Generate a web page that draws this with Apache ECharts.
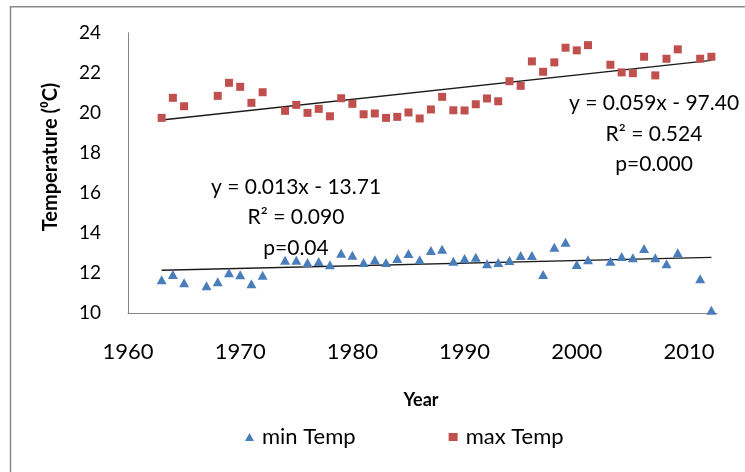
<!DOCTYPE html>
<html><head><meta charset="utf-8">
<script src="https://cdn.jsdelivr.net/npm/echarts@6/dist/echarts.min.js"></script>
<style>html,body{margin:0;padding:0;background:#fff}#c{width:745px;height:472px}</style>
</head><body><div id="c"></div>
<script>
const minYears = [1963,1964,1965,1967,1968,1969,1970,1971,1972,1974,1975,1976,1977,1978,1979,1980,1981,1982,1983,1984,1985,1986,1987,1988,1989,1990,1991,1992,1993,1994,1995,1996,1997,1998,1999,2000,2001,2003,2004,2005,2006,2007,2008,2009,2011,2012];
const minTemp = [11.67,11.93,11.52,11.37,11.58,12.02,11.92,11.47,11.9,12.65,12.65,12.53,12.58,12.42,13.0,12.9,12.53,12.67,12.53,12.73,12.98,12.67,13.13,13.2,12.6,12.73,12.8,12.47,12.53,12.63,12.88,12.88,11.93,13.3,13.55,12.43,12.67,12.6,12.83,12.77,13.23,12.77,12.47,13.02,11.73,10.15];
const maxYears = [1963,1964,1965,1968,1969,1970,1971,1972,1974,1975,1976,1977,1978,1979,1980,1981,1982,1983,1984,1985,1986,1987,1988,1989,1990,1991,1992,1993,1994,1995,1996,1997,1998,1999,2000,2001,2003,2004,2005,2006,2007,2008,2009,2011,2012];
const maxTemp = [19.75,20.75,20.33,20.85,21.5,21.3,20.5,21.03,20.1,20.4,20.0,20.2,19.83,20.73,20.45,19.93,19.97,19.75,19.8,20.02,19.72,20.17,20.8,20.13,20.12,20.43,20.72,20.58,21.58,21.35,22.57,22.05,22.52,23.25,23.12,23.38,22.4,22.02,21.98,22.8,21.87,22.7,23.17,22.7,22.8];
const xTickLabels = [1960,1970,1980,1990,2000,2010];
const yTickLabels = [10,12,14,16,18,20,22,24];
const minEqText = ['y = 0.013x - 13.71','R\u00b2 = 0.090','p=0.04'];
const maxEqText = ['y = 0.059x - 97.40','R\u00b2 = 0.524','p=0.000'];
const seriesNames = ['min Temp','max Temp'];

function fitLine(xs, ys){
  const n = xs.length;
  let sx=0, sy=0, sxx=0, sxy=0;
  for(let i=0;i<n;i++){ sx+=xs[i]; sy+=ys[i]; sxx+=xs[i]*xs[i]; sxy+=xs[i]*ys[i]; }
  const b = (n*sxy - sx*sy)/(n*sxx - sx*sx);
  const a = (sy - b*sx)/n;
  const x0 = xs[0], x1 = xs[n-1];
  return [[x0, a+b*x0],[x1, a+b*x1]];
}
const pairs = (xs, ys) => xs.map((x,i)=>[x, ys[i]]);

const FONT = 'Lato, "Open Sans", sans-serif';
const axisGray = '#868686';

const chart = echarts.init(document.getElementById('c'), null, {renderer:'canvas'});

function eqTexts(lines, cx, ys){
  return lines.map((t,i)=>({
    type:'text', x:cx, y:ys[i], z:100,
    style:{text:t, fontFamily:FONT, fontSize:21, fill:'#000', textAlign:'center', textVerticalAlign:'middle'}
  }));
}

chart.setOption({
  animation:false,
  backgroundColor:'#fff',
  grid:{left:128, right:28, top:32.7, bottom:158.7},
  xAxis:{
    type:'value', min:1960, max:2012.5, interval:10,
    axisLine:{show:true, lineStyle:{color:axisGray, width:1}},
    axisTick:{show:false},
    splitLine:{show:false},
    axisLabel:{
      show:true, margin:28, fontFamily:FONT, fontSize:22, color:'#000',
      showMaxLabel:false,
      formatter:(v)=> xTickLabels.indexOf(Math.round(v))>=0 && Math.abs(v-Math.round(v))<1e-6 ? String(Math.round(v)) : ''
    }
  },
  yAxis:{
    type:'value', min:10, max:24, interval:2,
    axisLine:{show:true, lineStyle:{color:axisGray, width:1}},
    axisTick:{show:false},
    splitLine:{show:false},
    axisLabel:{margin:27, fontFamily:FONT, fontSize:19, color:'#000',
      formatter:(v)=> yTickLabels.indexOf(v)>=0 ? String(v) : ''}
  },
  legend:{
    data:[{name:seriesNames[0], icon:'triangle'},{name:seriesNames[1], icon:'rect'}],
    left:245, top:426, padding:0,
    itemWidth:9, itemHeight:8, itemGap:93,
    textStyle:{fontFamily:FONT, fontSize:22, color:'#000', padding:[0,0,0,3]}
  },
  series:[
    {name:seriesNames[0], type:'scatter', symbol:'triangle', symbolSize:[10,9],
     itemStyle:{color:'#4A7EBB', opacity:1}, data:pairs(minYears, minTemp), z:5},
    {name:seriesNames[1], type:'scatter', symbol:'rect', symbolSize:8,
     itemStyle:{color:'#C0504D', opacity:1}, data:pairs(maxYears, maxTemp), z:5},
    {name:'min trend', type:'line', data:fitLine(minYears, minTemp), symbol:'none',
     lineStyle:{color:'#1a1a1a', width:1.3}, z:4, silent:true},
    {name:'max trend', type:'line', data:fitLine(maxYears, maxTemp), symbol:'none',
     lineStyle:{color:'#1a1a1a', width:1.3}, z:4, silent:true}
  ],
  graphic:[
    {type:'polyline', shape:{points:[[10.5,472],[10.5,6.75],[745,6.75]]}, style:{stroke:'#8a8a8a', lineWidth:1.5, fill:null}, silent:true},
    {type:'text', x:51, y:157, rotation:Math.PI/2, style:{text:'Temperature (\u2070C)', fontFamily:FONT, fontWeight:'bold', fontSize:20, fill:'#000', textAlign:'center', textVerticalAlign:'middle'}},
    {type:'text', x:421, y:400, style:{text:'Year', fontFamily:FONT, fontWeight:'bold', fontSize:18, fill:'#000', textAlign:'center', textVerticalAlign:'middle'}},
    ...eqTexts(maxEqText, 654, [103,134,164.5]),
    ...eqTexts(minEqText, 296, [187,217.5,248])
  ]
});
</script>
</body></html>
